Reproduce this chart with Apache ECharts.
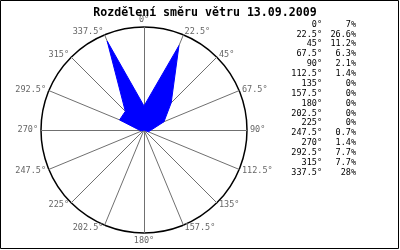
<!DOCTYPE html>
<html><head><meta charset="utf-8">
<script src="https://cdn.jsdelivr.net/npm/echarts@6/dist/echarts.min.js"></script>
<style>html,body{margin:0;padding:0;background:#fff}#c{width:400px;height:250px}</style>
</head><body><div id="c"></div>
<script>
var title = 'Rozdělení směru větru 13.09.2009';
var directions = ['0°','22.5°','45°','67.5°','90°','112.5°','135°','157.5°','180°','202.5°','225°','247.5°','270°','292.5°','315°','337.5°'];
var percents = [7, 26.6, 11.2, 6.3, 2.1, 1.4, 0, 0, 0, 0, 0, 0.7, 1.4, 7.7, 7.7, 28];
var maxValue = 30;

var n = directions.length;
// ECharts radar runs counter-clockwise; reorder so the chart runs clockwise
var order = [];
for (var i = 0; i < n; i++) order.push((n - i) % n);
var indicators = order.map(function (k) { return { name: directions[k], max: maxValue, min: 0 }; });
var values = order.map(function (k) { return percents[k]; });

var FONT = '"DejaVu Sans Mono", "Liberation Mono", monospace';
var graphics = [
  { type: 'rect', shape: { x: 0.5, y: 0.5, width: 398, height: 248 }, style: { fill: 'none', stroke: '#000', lineWidth: 1 }, silent: true }
];
for (var j = 0; j < n; j++) {
  var y = 24.5 + j * 9.87;
  graphics.push({ type: 'text', x: 322, y: y, style: { text: directions[j], font: '8.5px ' + FONT, fill: '#000', align: 'right', verticalAlign: 'middle' } });
  graphics.push({ type: 'text', x: 356, y: y, style: { text: percents[j] + '%', font: '8.5px ' + FONT, fill: '#000', align: 'right', verticalAlign: 'middle' } });
}

var chart = echarts.init(document.getElementById('c'), null, { renderer: 'canvas' });
chart.setOption({
  animation: false,
  backgroundColor: '#fff',
  title: {
    text: title, left: 200, top: 2, textAlign: 'center',
    textStyle: { fontFamily: FONT, fontSize: 11.6, fontWeight: 'bold', color: '#000' }
  },
  radar: {
    center: [144, 130],
    radius: 103,
    startAngle: 90,
    shape: 'circle',
    splitNumber: 1,
    indicator: indicators,
    axisName: { color: '#666', fontFamily: FONT, fontSize: 8.5 },
    nameGap: 3,
    axisLine: { lineStyle: { color: '#707070', width: 1 } },
    splitLine: { lineStyle: { color: '#000', width: 1.5 } },
    splitArea: { show: false },
    axisTick: { show: false },
    axisLabel: { show: false }
  },
  series: [{
    type: 'radar',
    symbol: 'none',
    data: [{ value: values }],
    lineStyle: { color: '#0000ff', width: 1 },
    areaStyle: { color: '#0000ff', opacity: 1 }
  }],
  graphic: graphics
});
</script></body></html>
